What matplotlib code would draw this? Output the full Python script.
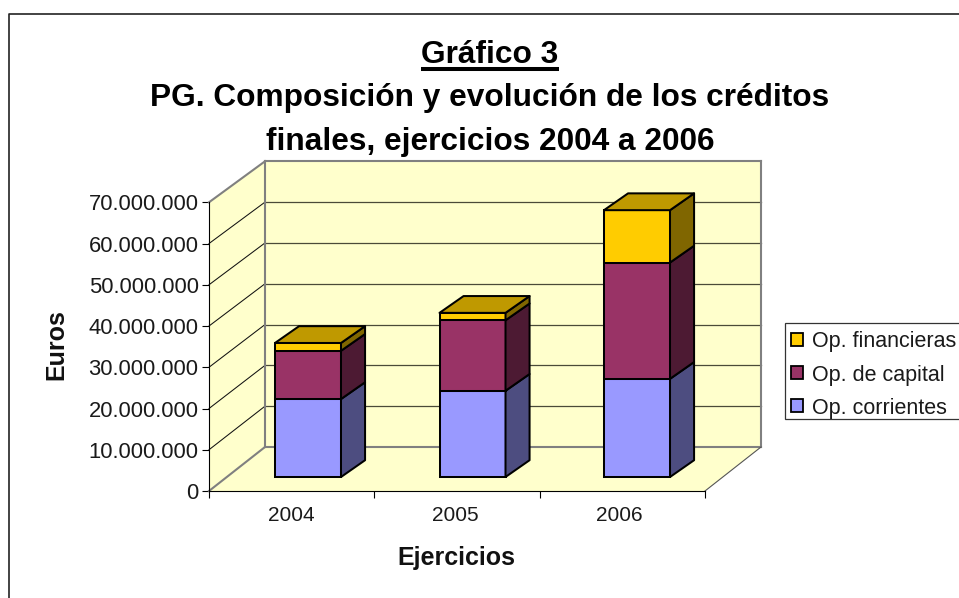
import matplotlib
matplotlib.use("Agg")
import matplotlib.pyplot as plt
from matplotlib.lines import Line2D
from matplotlib.patches import Patch, Polygon, Rectangle
from matplotlib.ticker import FuncFormatter, MultipleLocator, FixedLocator, FixedFormatter

plt.rcParams['font.family'] = ['Liberation Sans', 'DejaVu Sans']

# --- data ---
years = ['2004', '2005', '2006']
corrientes = [18.9e6, 20.9e6, 23.8e6]
capital = [11.7e6, 17.1e6, 28.2e6]
financieras = [1.9e6, 1.8e6, 12.7e6]
series_names = ['Op. corrientes', 'Op. de capital', 'Op. financieras']
title_lines = ['Gráfico 3', 'PG. Composición y evolución de los créditos', 'finales, ejercicios 2004 a 2006']

# --- styles ---
W, H = 959, 598
front_c = ['#9999FF', '#993366', '#FFCC00']
side_c = ['#4D4D80', '#4D1A33', '#806600']
top_c = '#BF9900'
wall_c = '#FFFFCC'
EDGE = 1.45

fig = plt.figure(figsize=(W / 100, H / 100), dpi=100, facecolor='white')

def fx(p): return p / W
def fy(p): return 1 - p / H

L, R, T, B = 209, 705, 202.3, 491
ax = fig.add_axes([fx(L), fy(B), (R - L) / W, (B - T) / H])
ax.set_xlim(0, 3)
ax.set_ylim(0, 70e6)
ax.patch.set_visible(False)

PX = 3 / (R - L)            # categories per pixel
PY = 70e6 / (B - T)         # euros per pixel

def wall(x, v, d):
    """Oblique projection for the walls; the back plane is a little smaller."""
    shift = 44 - 3 * v / 70e6
    return x + d * 56 * PX, v + d * shift * PY

def box(x, v, d):
    """Oblique projection for the bars."""
    return x + d * 63 * PX, v + d * 44 * PY

def poly(pts, **kw):
    ax.add_patch(Polygon(pts, closed=True, clip_on=False, **kw))

GREY = '#808080'
# floor, side wall, back wall
poly([wall(0, 0, 0), wall(3, 0, 0), wall(3, 0, 1), wall(0, 0, 1)], fc=wall_c, ec='none', zorder=1)
poly([wall(0, 0, 0), wall(0, 70e6, 0), wall(0, 70e6, 1), wall(0, 0, 1)], fc=wall_c, ec='none', zorder=1)
poly([wall(0, 0, 1), wall(3, 0, 1), wall(3, 70e6, 1), wall(0, 70e6, 1)], fc=wall_c, ec='none', zorder=1)

for v in range(10_000_000, 70_000_000, 10_000_000):
    a, b, c = wall(0, v, 0), wall(0, v, 1), wall(3, v, 1)
    ax.plot([a[0], b[0]], [a[1], b[1]], color='#111111', lw=0.75, zorder=2, clip_on=False)
    ax.plot([b[0], c[0]], [b[1], c[1]], color='#4A4A38', lw=0.9, zorder=2, clip_on=False)

def seg(p, q, color=GREY, lw=1.5, z=3):
    ax.plot([p[0], q[0]], [p[1], q[1]], color=color, lw=lw, zorder=z, clip_on=False,
            solid_capstyle='projecting')

seg(wall(0, 0, 1), wall(0, 70e6, 1))
seg(wall(0, 70e6, 1), wall(3, 70e6, 1))
seg(wall(3, 70e6, 1), wall(3, 0, 1))
seg(wall(0, 0, 1), wall(3, 0, 1))
seg(wall(0, 70e6, 0), wall(0, 70e6, 1))
seg(wall(0, 0, 0), wall(0, 0, 1))
seg(wall(3, 0, 0), wall(3, 0, 1), color='#555555', lw=0.8)

# bars
D0, D1 = 0.318, 0.70
BAR_W = 66 * PX
stacks = [corrientes, capital, financieras]
for i in range(len(years)):
    x0 = 0.278 + i * 0.995
    base = 0
    for s, vals in enumerate(stacks):
        v = vals[i]
        X0, Y0 = box(x0, base, D0)
        ax.bar(X0, v, bottom=Y0, width=BAR_W, align='edge', color=front_c[s],
               edgecolor='black', linewidth=EDGE, zorder=5, clip_on=False)
        poly([box(x0 + BAR_W, base, D0), box(x0 + BAR_W, base + v, D0),
              box(x0 + BAR_W, base + v, D1), box(x0 + BAR_W, base, D1)],
             fc=side_c[s], ec='black', lw=EDGE, zorder=5, joinstyle='round')
        base += v
    poly([box(x0, base, D0), box(x0 + BAR_W, base, D0),
          box(x0 + BAR_W, base, D1), box(x0, base, D1)],
         fc=top_c, ec='black', lw=EDGE, zorder=6, joinstyle='round')

# axes
for s in ('top', 'right'):
    ax.spines[s].set_visible(False)
for s in ('left', 'bottom'):
    ax.spines[s].set_color('black')
    ax.spines[s].set_linewidth(0.8)
    ax.spines[s].set_zorder(4)

ax.yaxis.set_major_locator(MultipleLocator(10e6))
ax.yaxis.set_major_formatter(FuncFormatter(lambda v, _: f'{int(v):,}'.replace(',', '.')))
ax.tick_params(axis='y', length=5, width=0.8, pad=2.5, labelsize=15.8, labelcolor='#1A1A1A')
ax.xaxis.set_major_locator(FixedLocator([0, 1, 2, 3]))
ax.xaxis.set_major_formatter(FixedFormatter(['', '', '', '']))
ax.xaxis.set_minor_locator(FixedLocator([0.5, 1.49, 2.48]))
ax.xaxis.set_minor_formatter(FixedFormatter(years))
ax.tick_params(axis='x', which='major', length=5, width=0.8)
ax.tick_params(axis='x', which='minor', length=0, pad=11, labelsize=15, labelcolor='#1A1A1A')

# titles
fig.text(fx(56), fy(345), 'Euros', rotation=90, ha='center', va='center',
         fontsize=18, fontweight='bold', color='#111111')
fig.text(fx(456.5), fy(565), 'Ejercicios', ha='center', va='baseline',
         fontsize=18, fontweight='bold', color='#111111')

baselines = [63, 106, 150]
t0 = None
for line, yb in zip(title_lines, baselines):
    t = fig.text(fx(490), fy(yb), line, ha='center', va='baseline',
                 fontsize=22.8, fontweight='bold', color='black')
    t0 = t0 or t
fig.canvas.draw()
ext = t0.get_window_extent()
fig.add_artist(Line2D([ext.x0 / W, ext.x1 / W], [fy(69), fy(69)], color='black', lw=2.9,
                      solid_capstyle='butt'))

# chart frame
fig.add_artist(Line2D([fx(8.5), fx(8.5), fx(W)], [fy(H), fy(13.5), fy(13.5)], color='#222222', lw=1.2))

# legend
fig.add_artist(Rectangle((fx(785), fy(419)), fx(180), 96 / H, transform=fig.transFigure,
                         fc='white', ec='#333333', lw=0.9))
handles = [Patch(fc=front_c[i], ec='black', lw=1.3, label=series_names[i]) for i in (2, 1, 0)]
leg = fig.legend(handles=handles, loc='upper left', bbox_to_anchor=(fx(785), fy(325)),
                 borderaxespad=0, fontsize=15.5, frameon=False,
                 handlelength=0.55, handleheight=0.55, handletextpad=0.4,
                 borderpad=0.3, labelspacing=0.56, labelcolor='#1A1A1A')

fig.savefig('out.png', dpi=100, facecolor='white')
